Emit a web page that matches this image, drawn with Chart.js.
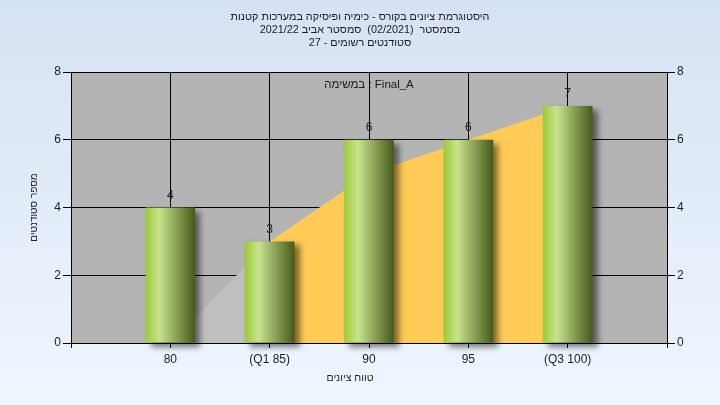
<!DOCTYPE html>
<html><head><meta charset="utf-8">
<script src="https://cdn.jsdelivr.net/npm/chart.js@4"></script>
<style>html,body{margin:0;padding:0;background:#eef6fe}#wrap{width:720px;height:405px;position:relative}</style>
</head><body><div id="wrap"><canvas id="c" dir="rtl" width="720" height="405"></canvas></div>
<script>
// ---- data ----
const categories = ['', '80', '(Q1 85)', '90', '95', '(Q3 100)', ''];
const studentCounts = [null, 4, 3, 6, 6, 7, null];
const belowQ1Area = [null, 0, 3, null, null, null, null];
const q1ToQ3Area = [null, null, 3, 5, 6, 7, null];
const yTicks = [0, 2, 4, 6, 8];
const titleLines = [
  'היסטוגרמת ציונים בקורס - כימיה ופיסיקה במערכות קטנות',
  'בסמסטר  (02/2021)  סמסטר אביב 2021/22',
  'סטודנטים רשומים - 27'
];
const taskLabel = 'במשימה : Final_A';
const xTitle = 'טווח ציונים';
const yTitle = 'מספר סטודנטים';

const FONT = "'Liberation Sans', Arial, sans-serif";
const TXT = '#1c1c24';

const bgPlugin = {
  id: 'bg',
  beforeDraw(chart) {
    const {ctx, chartArea: a} = chart;
    ctx.save();
    const g = ctx.createLinearGradient(0, 0, 0, chart.height);
    g.addColorStop(0, '#d5e2f3');
    g.addColorStop(1, '#eff6fe');
    ctx.fillStyle = g;
    ctx.fillRect(0, 0, chart.width, chart.height);
    ctx.fillStyle = '#b4b4b4';
    ctx.fillRect(a.left, a.top, a.right - a.left, a.bottom - a.top);
    ctx.restore();
  }
};

const barStyle = {
  id: 'barStyle',
  beforeDatasetDraw(chart, args) {
    if (args.meta.type !== 'bar') return;
    const ctx = chart.ctx;
    args.meta.data.forEach(el => {
      if (!el || el.skip || isNaN(el.x)) return;
      const half = el.width / 2;
      const g = ctx.createLinearGradient(el.x - half, 0, el.x + half, 0);
      g.addColorStop(0, '#9acb36');
      g.addColorStop(0.28, '#c8e38e');
      g.addColorStop(0.6, '#8ea55a');
      g.addColorStop(1, '#46591c');
      el.options.backgroundColor = g;
    });
    ctx.save();
    ctx.shadowColor = 'rgba(0,0,0,0.5)';
    ctx.shadowOffsetX = 5;
    ctx.shadowOffsetY = 4;
    ctx.shadowBlur = 6;
  },
  afterDatasetDraw(chart, args) {
    if (args.meta.type !== 'bar') return;
    chart.ctx.restore();
  }
};

const labelsPlugin = {
  id: 'valueLabels',
  afterDatasetsDraw(chart) {
    const ctx = chart.ctx;
    ctx.save();
    ctx.font = '12px ' + FONT;
    ctx.fillStyle = TXT;
    ctx.textAlign = 'center';
    ctx.textBaseline = 'middle';
    ctx.direction = 'ltr';
    chart.getSortedVisibleDatasetMetas().forEach(meta => {
      if (meta.type !== 'bar') return;
      meta.data.forEach((el, i) => {
        const v = chart.data.datasets[meta.index].data[i];
        if (v === null || v === undefined) return;
        ctx.fillText(String(v), el.x, el.y - 12);
      });
    });
    const a = chart.chartArea;
    ctx.font = '11.5px ' + FONT;
    ctx.fillText(taskLabel, (a.left + a.right) / 2, a.top + 13);
    // x axis title
    ctx.direction = 'rtl';
    ctx.font = '10.5px ' + FONT;
    ctx.fillText(xTitle, chart.width / 2 - 10, 378);
    ctx.restore();
  }
};

new Chart(document.getElementById('c'), {
  data: {
    labels: categories,
    datasets: [
      {
        type: 'bar', data: studentCounts, order: 1,
        backgroundColor: () => '#9acb36', borderWidth: 0,
        categoryPercentage: 1, barPercentage: 0.5, clip: false
      },
      {
        type: 'line', data: belowQ1Area, order: 2, fill: 'origin',
        backgroundColor: '#bfbfbf', borderWidth: 0, pointRadius: 0, tension: 0
      },
      {
        type: 'line', data: q1ToQ3Area, order: 3, fill: 'origin',
        backgroundColor: '#ffcb57', borderWidth: 0, pointRadius: 0, tension: 0
      }
    ]
  },
  options: {
    responsive: false,
    animation: false,
    devicePixelRatio: 1,
    layout: {padding: 0},
    plugins: {
      legend: {display: false},
      tooltip: {enabled: false},
      title: {
        display: true, text: titleLines, color: TXT,
        font: {family: FONT, size: 10.8, weight: 'normal', lineHeight: '13px'},
        padding: {top: 10.5, bottom: 22.5}
      }
    },
    scales: {
      x: {
        type: 'category', offset: false,
        grid: {color: '#000', lineWidth: 1, tickLength: 5, offset: false},
        border: {color: '#000'},
        ticks: {autoSkip: false, maxRotation: 0, padding: 4, color: TXT, font: {family: FONT, size: 12}},
        afterFit(s) { s.height = 62; }
      },
      y: {
        position: 'left', min: 0, max: 8,
        afterBuildTicks(s) { s.ticks = yTicks.map(v => ({value: v})); },
        grid: {color: '#000', lineWidth: 1, tickLength: 8},
        border: {color: '#000'},
        ticks: {padding: 2, color: TXT, font: {family: FONT, size: 12}},
        title: {display: true, text: yTitle, color: TXT, font: {family: FONT, size: 10}, padding: {top: 28, bottom: 0}},
        afterFit(s) { s.width = 71; }
      },
      y2: {
        position: 'right', min: 0, max: 8,
        afterBuildTicks(s) { s.ticks = yTicks.map(v => ({value: v})); },
        grid: {color: '#000', lineWidth: 1, tickLength: 8, drawOnChartArea: false},
        border: {color: '#000'},
        ticks: {padding: 2, color: TXT, font: {family: FONT, size: 12}},
        afterFit(s) { s.width = 53; }
      }
    }
  },
  plugins: [bgPlugin, barStyle, labelsPlugin]
});
</script>
</body></html>
